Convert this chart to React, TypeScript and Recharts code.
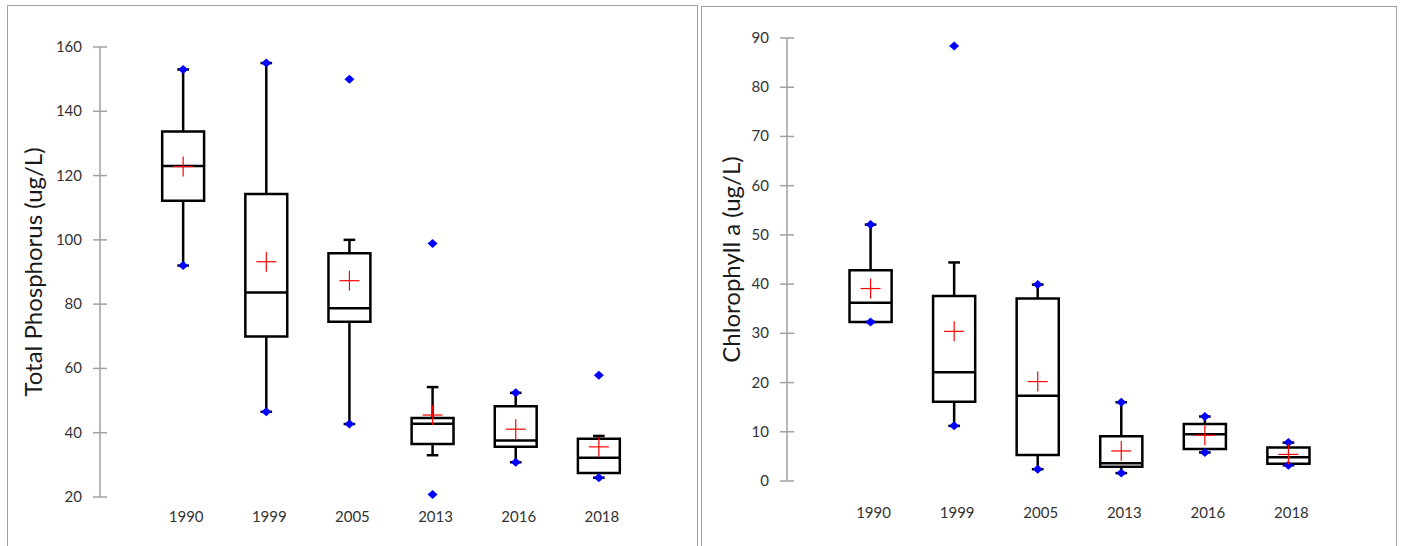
import { ScatterChart, Scatter, XAxis, YAxis, ReferenceArea, ReferenceLine } from 'recharts'

const years = ['1990', '1999', '2005', '2013', '2016', '2018']

// Total phosphorus (ug/L)
const tpMin = [92, 46.5, 42.7, 20.8, 30.8, 26.0]
const tpLowWhisker = [92, 46.5, 42.7, 33.0, 30.8, 26.0]
const tpQ1 = [112.2, 69.9, 74.5, 36.5, 35.6, 27.5]
const tpMedian = [123.0, 83.6, 78.7, 42.8, 37.6, 32.2]
const tpQ3 = [133.7, 114.3, 95.8, 44.6, 48.2, 38.1]
const tpHighWhisker = [153, 155, 100, 54.2, 52.4, 39.0]
const tpMax = [153, 155, 150, 98.9, 52.4, 57.9]
const tpMean = [122.8, 93.2, 87.3, 45.5, 41.1, 35.6]
const tpTicks = [20, 40, 60, 80, 100, 120, 140, 160]

// Chlorophyll a (ug/L)
const chlMin = [32.3, 11.2, 2.4, 1.6, 5.8, 3.2]
const chlLowWhisker = [32.3, 11.2, 2.4, 1.6, 5.8, 3.2]
const chlQ1 = [32.3, 16.1, 5.3, 2.9, 6.5, 3.5]
const chlMedian = [36.2, 22.1, 17.3, 3.6, 9.5, 4.8]
const chlQ3 = [42.8, 37.6, 37.1, 9.1, 11.6, 6.8]
const chlHighWhisker = [52.1, 44.4, 39.9, 16.0, 13.1, 7.8]
const chlMax = [52.1, 88.4, 39.9, 16.0, 13.1, 7.8]
const chlMean = [39.1, 30.4, 20.2, 6.1, 9.3, 5.4]
const chlTicks = [0, 10, 20, 30, 40, 50, 60, 70, 80, 90]

const FONT = 'Lato, "Open Sans", sans-serif'
const AXIS_GREY = '#a0a0a0'
const BOX_HALF = 0.252
const CAP_HALF = 0.07

interface Stats {
  min: number[]
  lowWhisker: number[]
  q1: number[]
  median: number[]
  q3: number[]
  highWhisker: number[]
  max: number[]
  mean: number[]
}

function YTick(props: any) {
  const { x, y, payload } = props
  return (
    <g>
      <line x1={x + 11} x2={x + 25} y1={y} y2={y} stroke={AXIS_GREY} strokeWidth={1.5} />
      <text x={x} y={y} dy={5} textAnchor="end" fill="#333" fontSize={15} fontFamily={FONT}>
        {payload.value}
      </text>
    </g>
  )
}

function Diamond(props: any) {
  const { cx, cy } = props
  return <path d={`M${cx},${cy - 4.5} L${cx + 5},${cy} L${cx},${cy + 4.5} L${cx - 5},${cy} Z`} fill="#0000ff" />
}

function MeanCross(props: any) {
  const { cx, cy } = props
  return (
    <g stroke="#ff0000" strokeWidth={1.2}>
      <line x1={cx - 10} x2={cx + 10} y1={cy} y2={cy} />
      <line x1={cx} x2={cx} y1={cy - 10} y2={cy + 10} />
    </g>
  )
}

interface PanelProps {
  stats: Stats
  title: string
  yDomain: [number, number]
  yTicks: number[]
  width: number
  height: number
  margin: { top: number; right: number; bottom: number; left: number }
  xTickMargin: number
  titleDx: number
}

function BoxPanel({ stats, title, yDomain, yTicks, width, height, margin, xTickMargin, titleDx }: PanelProps) {
  const xs = years.map((_, i) => i + 1)
  const extremes = xs.flatMap((x, i) => [
    { x, y: stats.min[i] },
    { x, y: stats.max[i] },
  ])
  const means = xs.map((x, i) => ({ x, y: stats.mean[i] }))
  const line = { stroke: '#000', strokeWidth: 2.5, ifOverflow: 'visible' as const }

  return (
    <ScatterChart width={width} height={height} margin={margin}>
      <XAxis
        type="number"
        dataKey="x"
        domain={[0, 7]}
        ticks={xs}
        tickFormatter={(v: number) => years[v - 1]}
        axisLine={false}
        tickLine={false}
        tickSize={0}
        tickMargin={xTickMargin}
        tick={{ fill: '#333', fontSize: 15, fontFamily: FONT, dx: 3 }}
        height={30}
      />
      <YAxis
        type="number"
        dataKey="y"
        domain={yDomain}
        ticks={yTicks}
        interval={0}
        axisLine={{ stroke: AXIS_GREY, strokeWidth: 1.5 }}
        tickLine={false}
        tickSize={6}
        tickMargin={12}
        tick={<YTick />}
        width={60}
        label={{
          value: title,
          angle: -90,
          position: 'center',
          dx: titleDx,
          fill: '#1a1a1a',
          fontSize: 24,
          fontFamily: FONT,
        }}
      />
      {xs.map((x, i) => (
        <ReferenceLine key={`wl${i}`} segment={[{ x, y: stats.lowWhisker[i] }, { x, y: stats.q1[i] }]} {...line} />
      ))}
      {xs.map((x, i) => (
        <ReferenceLine key={`wh${i}`} segment={[{ x, y: stats.q3[i] }, { x, y: stats.highWhisker[i] }]} {...line} />
      ))}
      {xs.map((x, i) => (
        <ReferenceLine
          key={`cl${i}`}
          segment={[{ x: x - CAP_HALF, y: stats.lowWhisker[i] }, { x: x + CAP_HALF, y: stats.lowWhisker[i] }]}
          {...line}
        />
      ))}
      {xs.map((x, i) => (
        <ReferenceLine
          key={`ch${i}`}
          segment={[{ x: x - CAP_HALF, y: stats.highWhisker[i] }, { x: x + CAP_HALF, y: stats.highWhisker[i] }]}
          {...line}
        />
      ))}
      {xs.map((x, i) => (
        <ReferenceArea
          key={`box${i}`}
          x1={x - BOX_HALF}
          x2={x + BOX_HALF}
          y1={stats.q1[i]}
          y2={stats.q3[i]}
          fill="#fff"
          fillOpacity={1}
          stroke="#000"
          strokeWidth={2.5}
          ifOverflow="visible"
        />
      ))}
      {xs.map((x, i) => (
        <ReferenceLine
          key={`med${i}`}
          segment={[{ x: x - BOX_HALF, y: stats.median[i] }, { x: x + BOX_HALF, y: stats.median[i] }]}
          {...line}
        />
      ))}
      <Scatter data={extremes} shape={<Diamond />} isAnimationActive={false} />
      <Scatter data={means} shape={<MeanCross />} isAnimationActive={false} />
    </ScatterChart>
  )
}

const tpStats: Stats = {
  min: tpMin,
  lowWhisker: tpLowWhisker,
  q1: tpQ1,
  median: tpMedian,
  q3: tpQ3,
  highWhisker: tpHighWhisker,
  max: tpMax,
  mean: tpMean,
}

const chlStats: Stats = {
  min: chlMin,
  lowWhisker: chlLowWhisker,
  q1: chlQ1,
  median: chlMedian,
  q3: chlQ3,
  highWhisker: chlHighWhisker,
  max: chlMax,
  mean: chlMean,
}

export default function App() {
  return (
    <div
      style={{
        position: 'absolute',
        left: 0,
        top: 0,
        width: 1405,
        height: 546,
        background: '#fff',
        overflow: 'hidden',
      }}
    >
      <div
        style={{
          position: 'absolute',
          left: 7,
          top: 5,
          width: 691,
          height: 600,
          border: '1px solid #a0a0a0',
          boxSizing: 'border-box',
        }}
      />
      <div
        style={{
          position: 'absolute',
          left: 701,
          top: 6,
          width: 696,
          height: 600,
          border: '1px solid #a0a0a0',
          boxSizing: 'border-box',
        }}
      />
      <div style={{ position: 'absolute', left: 0, top: 0 }}>
        <BoxPanel
          stats={tpStats}
          title="Total Phosphorus (ug/L)"
          yDomain={[20, 160]}
          yTicks={tpTicks}
          width={698}
          height={546}
          margin={{ top: 47, right: 16, bottom: 19, left: 40 }}
          xTickMargin={14}
          titleDx={-37}
        />
      </div>
      <div style={{ position: 'absolute', left: 702, top: 0 }}>
        <BoxPanel
          stats={chlStats}
          title="Chlorophyll a (ug/L)"
          yDomain={[0, 90]}
          yTicks={chlTicks}
          width={695}
          height={546}
          margin={{ top: 38, right: 25, bottom: 35, left: 25 }}
          xTickMargin={26}
          titleDx={-26}
        />
      </div>
    </div>
  )
}
